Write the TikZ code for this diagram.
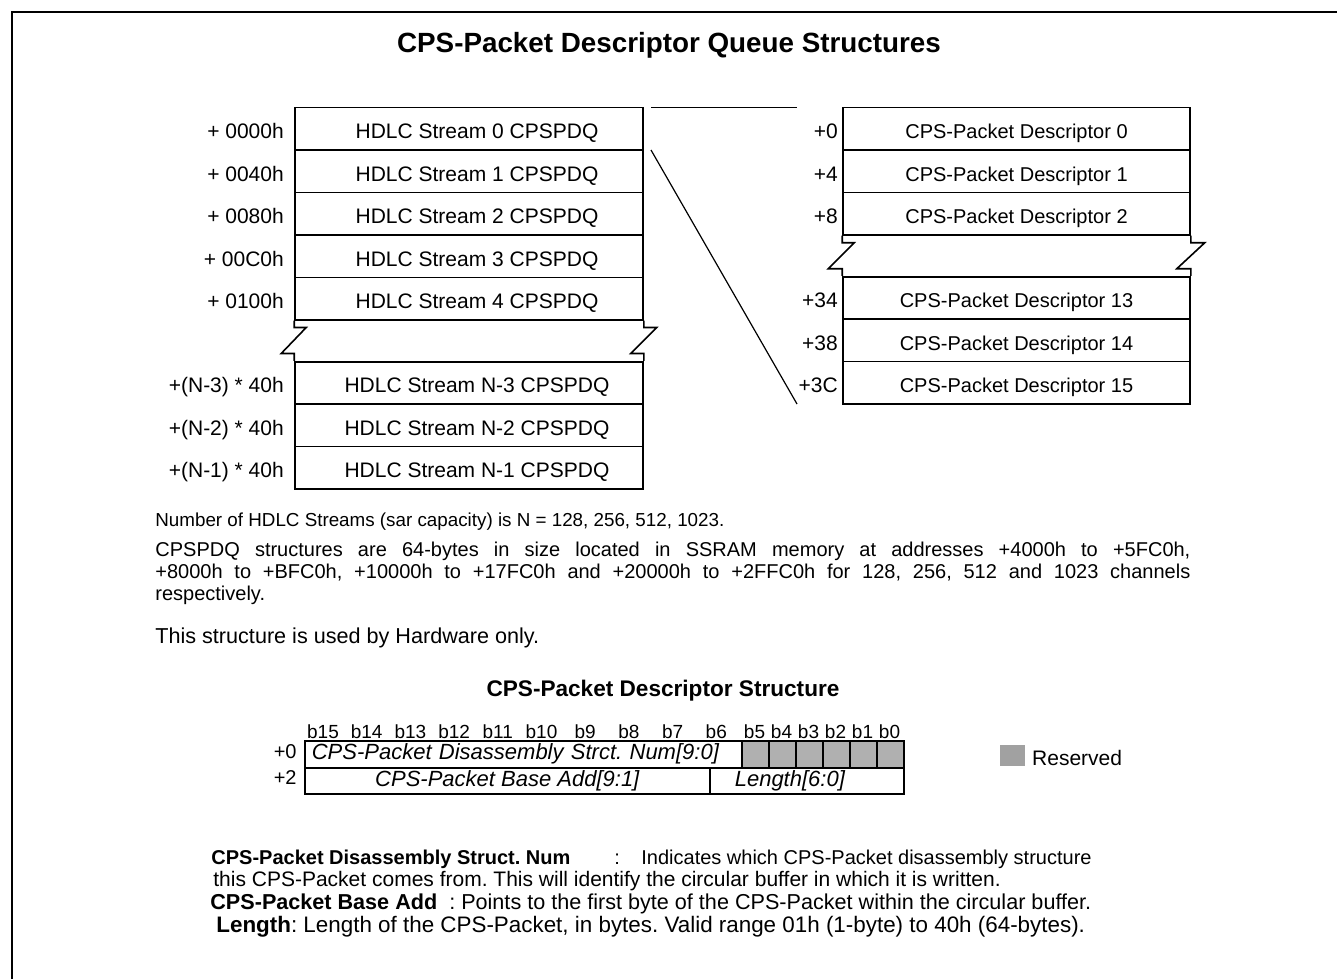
\documentclass[tikz,border=0pt]{standalone}
\usepackage{fontspec}
\setmainfont{Liberation Sans}
\usetikzlibrary{positioning}
\frenchspacing
\begin{document}
\begin{tikzpicture}[x=0.5pt,y=-0.5pt,line join=miter,
  frame/.style={line width=0.85pt},
  row/.style={draw,line width=0.8pt,minimum width=174pt,minimum height=21.2pt,inner sep=0pt,text height=10pt,text depth=0pt,font=\fontsize{10.5}{12}\selectfont,execute at begin node=\hspace*{8pt}},
  rrow/.style={draw,line width=0.8pt,minimum width=173.5pt,minimum height=21.2pt,inner sep=0pt,text height=10pt,text depth=0pt,font=\fontsize{10}{12}\selectfont},
  lbl/.style={inner sep=0pt,text height=10pt,text depth=0pt,font=\fontsize{10.5}{12}\selectfont},
  brk/.style={line width=0.8pt},
  zoomline/.style={line width=0.6pt},
  bithdr/.style={inner sep=0pt,anchor=base,font=\fontsize{9.5}{11}\selectfont},
  field/.style={draw,line width=0.8pt,inner sep=0pt,anchor=north west,font=\fontsize{11}{12}\selectfont\itshape},
  rsv/.style={field,fill=black!31,minimum width=13.5pt,minimum height=13.5pt},
  body/.style={inner sep=0pt,anchor=base west,font=\fontsize{10}{11}\selectfont},
  bodyb/.style={body,font=\fontsize{10}{11}\selectfont\bfseries}]
\useasboundingbox (0,0) rectangle (1337,979);
\draw[frame] (12,979) -- (12,12) -- (1337,12);

\node[font=\fontsize{13.9}{16}\selectfont\bfseries] (title) at (669,45) {CPS-Packet Descriptor Queue Structures};

% left table
\node[row] (L0) at (469,128.9) {HDLC Stream 0 CPSPDQ};
\node[row] (L1) at (469,171.3) {HDLC Stream 1 CPSPDQ};
\node[row] (L2) at (469,213.7) {HDLC Stream 2 CPSPDQ};
\node[row] (L3) at (469,256.1) {HDLC Stream 3 CPSPDQ};
\node[row] (L4) at (469,298.5) {HDLC Stream 4 CPSPDQ};
\node[row] (LN3) at (469,382.9) {HDLC Stream N-3 CPSPDQ};
\node[row] (LN2) at (469,425.3) {HDLC Stream N-2 CPSPDQ};
\node[row] (LN1) at (469,467.7) {HDLC Stream N-1 CPSPDQ};
\node[lbl,left=5pt of L0] (a0) {+ 0000h};
\node[lbl,left=5pt of L1] (a1) {+ 0040h};
\node[lbl,left=5pt of L2] (a2) {+ 0080h};
\node[lbl,left=5pt of L3] (a3) {+ 00C0h};
\node[lbl,left=5pt of L4] (a4) {+ 0100h};
\node[lbl,left=5pt of LN3] (aN3) {+(N-3) * 40h};
\node[lbl,left=5pt of LN2] (aN2) {+(N-2) * 40h};
\node[lbl,left=5pt of LN1] (aN1) {+(N-1) * 40h};
\draw[brk] (L4.south west) -- ++(0,7) -- ++(12,0) -- ++(-25,26) -- ++(13,0) -- (LN3.north west);
\draw[brk] (L4.south east) -- ++(0,7) -- ++(13,0) -- ++(-26,26) -- ++(13,0) -- (LN3.north east);

% right table
\node[rrow] (R0) at (1016.5,128.9) {CPS-Packet Descriptor 0};
\node[rrow] (R1) at (1016.5,171.3) {CPS-Packet Descriptor 1};
\node[rrow] (R2) at (1016.5,213.7) {CPS-Packet Descriptor 2};
\node[rrow] (R13) at (1016.5,297.9) {CPS-Packet Descriptor 13};
\node[rrow] (R14) at (1016.5,340.3) {CPS-Packet Descriptor 14};
\node[rrow] (R15) at (1016.5,382.7) {CPS-Packet Descriptor 15};
\node[lbl,left=2pt of R0] (o0) {+0};
\node[lbl,left=2pt of R1] (o1) {+4};
\node[lbl,left=2pt of R2] (o2) {+8};
\node[lbl,left=2pt of R13] (o13) {+34};
\node[lbl,left=2pt of R14] (o14) {+38};
\node[lbl,left=2pt of R15] (o15) {+3C};
\draw[brk] (R2.south west) -- ++(0,7) -- ++(12,0) -- ++(-26,26) -- ++(14,0) -- (R13.north west);
\draw[brk] (R2.south east) -- ++(0,7) -- ++(14,0) -- ++(-28,26) -- ++(14,0) -- (R13.north east);

% zoom lines
\coordinate (za) at (651,107.7);
\coordinate (zb) at (797,107.7);
\coordinate (zc) at (651,150);
\coordinate (zd) at (797,404);
\draw[zoomline] (za) -- (zb);
\draw[zoomline] (zc) -- (zd);

% explanatory text
\node[body,font=\fontsize{9.4}{11}\selectfont] (t1) at (155,526) {Number of HDLC Streams (sar capacity) is N = 128, 256, 512, 1023.};
\node[inner sep=0pt,anchor=north west,text width=517.5pt,align=justify,font=\fontsize{10}{11}\selectfont] (t2) at (155,541.6)
 {CPSPDQ structures are 64-bytes in size located in SSRAM memory at addresses +4000h to +5FC0h,\linebreak
 +8000h to +BFC0h, +10000h to +17FC0h and +20000h to +2FFC0h for 128, 256, 512 and 1023 channels\linebreak
 respectively.};
\node[body,font=\fontsize{10.8}{11}\selectfont] (t3) at (155,643) {This structure is used by Hardware only.};

% descriptor structure
\node[font=\fontsize{11.3}{13}\selectfont\bfseries] (st) at (663,691) {CPS-Packet Descriptor Structure};
\foreach \n [count=\i from 0] in {15,14,13,12,11,10,9,8,7,6}
  \node[bithdr] (b\n) at (304+43.7*\i+19,738) {b\n};
\foreach \n [count=\i from 0] in {5,4,3,2,1,0}
  \node[bithdr] (b\n) at (741+27*\i+13.5,738) {b\n};
\node[field,minimum width=218.5pt,minimum height=13.5pt,text width=211.5pt,inner xsep=3.5pt,align=left] (F0) at (304,740) {CPS-Packet Disassembly Strct. Num[9:0]};
\foreach \j in {0,...,5}
  \node[rsv] (g\j) at (741+27*\j,740) {};
\node[field,minimum width=202.5pt,minimum height=13pt] (F1) at (304,767) {CPS-Packet Base Add[9:1]};
\node[field,minimum width=97pt,minimum height=13pt,text width=72pt,inner xsep=12.5pt,align=left] (F2) at (709,767) {Length[6:0]};
\node[lbl,font=\fontsize{10}{12}\selectfont,left=3.5pt of F0,yshift=3pt] (p0) {+0};
\node[lbl,font=\fontsize{10}{12}\selectfont,left=3.5pt of F1,yshift=3pt] (p2) {+2};
\node[fill=black!37,minimum width=12.5pt,minimum height=10.5pt,inner sep=0pt,anchor=north west] (leg) at (1000,745) {};
\node[lbl,right=3pt of leg] (legt) {Reserved};

% field descriptions
\node[bodyb] (d1) at (211,864) {CPS-Packet Disassembly Struct. Num};
\node[body] (d1c) at (614,864) {:};
\node[body] (d1t) at (641,864) {Indicates which CPS-Packet disassembly structure};
\node[body,font=\fontsize{10.5}{11}\selectfont] (d2) at (213,886) {this CPS-Packet comes from. This will identify the circular buffer in which it is written.};
\node[body,font=\fontsize{10.8}{11}\selectfont] (d3) at (210,909) {\bfseries CPS-Packet Base Add\hspace{6pt}\mdseries: Points to the first byte of the CPS-Packet within the circular buffer.};
\node[body,font=\fontsize{11.2}{11}\selectfont] (d4) at (216,932) {\bfseries Length\mdseries: Length of the CPS-Packet, in bytes. Valid range 01h (1-byte) to 40h (64-bytes).};
\end{tikzpicture}
\end{document}
